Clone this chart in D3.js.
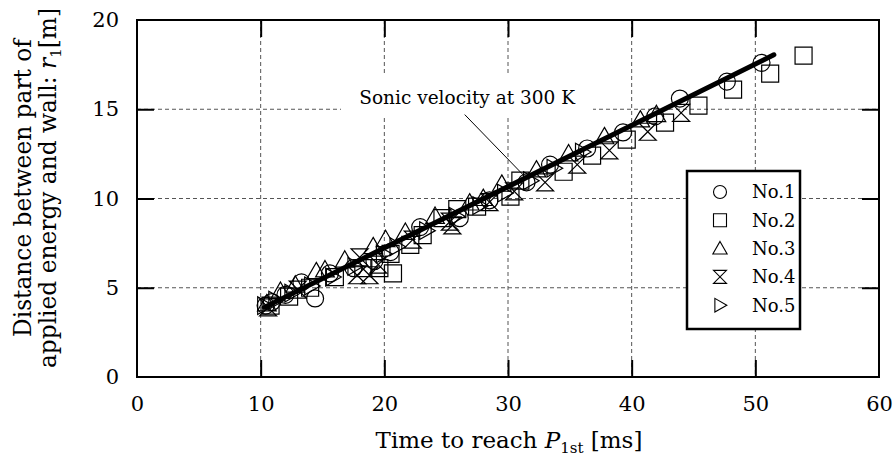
<!DOCTYPE html>
<html><head><meta charset="utf-8">
<script src="https://cdn.jsdelivr.net/npm/d3@7"></script>
<style>body{margin:0;background:#fff}svg{display:block}text{font-family:"DejaVu Serif",serif;fill:#000}</style>
</head><body><svg id="c" width="894" height="472"></svg>
<script>
// ---- data ----
const xTicks = [0, 10, 20, 30, 40, 50, 60];
const yTicks = [0, 5, 10, 15, 20];
const gridX = [10, 20, 30, 40, 50];
const gridY = [5, 10, 15];
const seriesNames = ["No.1", "No.2", "No.3", "No.4", "No.5"];
const no1 = [[10.4,4.0],[10.9,4.2],[12.0,4.6],[13.3,5.3],[14.4,4.4],[15.6,5.8],[17.5,6.1],[19.2,6.5],[20.5,7.0],[22.9,8.4],[26.1,8.9],[28.5,9.9],[31.5,10.9],[33.4,11.9],[36.4,12.8],[39.3,13.7],[41.9,14.6],[43.9,15.6],[47.7,16.55],[50.5,17.6]];
const no2 = [[10.8,4.0],[12.3,4.5],[14.0,5.0],[16.0,5.6],[18.3,6.1],[19.6,6.1],[20.7,5.8],[20.5,6.9],[22.1,7.4],[23.1,7.95],[24.7,8.9],[25.9,9.4],[27.5,9.55],[30.2,10.1],[31.0,11.0],[34.5,11.5],[36.8,12.4],[39.6,13.3],[42.7,14.25],[45.4,15.2],[48.2,16.1],[51.2,17.0],[53.9,18.0]];
const no3 = [[10.5,4.1],[11.6,4.8],[12.8,5.15],[14.5,5.9],[15.2,6.0],[16.8,6.55],[19.1,7.3],[20.1,7.7],[21.7,8.1],[24.1,9.0],[26.9,9.75],[28.0,10.0],[29.5,10.8],[32.3,11.6],[34.9,12.5],[37.8,13.46],[40.7,14.4],[42.0,14.7]];
const no4 = [[10.6,3.9],[13.0,4.9],[17.8,5.7],[18.0,6.7],[18.8,5.7],[19.5,6.3],[22.3,7.7],[25.3,8.7],[25.5,8.5],[28.5,9.8],[30.5,10.4],[33.0,10.9],[35.6,11.9],[38.2,12.7],[41.3,13.74],[44.0,14.8]];
const no5 = [[10.3,4.0],[11.2,4.3],[12.5,4.7],[14.1,5.1],[15.8,5.6],[17.6,6.2],[19.9,6.9],[21.0,7.3],[23.4,8.2],[25.8,9.0],[27.7,9.6],[29.7,10.3],[31.8,11.0],[33.7,11.7],[36.0,12.6]];
const fitX = [10.3, 51.5];
const fitY = [3.9, 18.05];
const annText = "Sonic velocity at 300 K";
const annTextPos = [26.7, 15.3];
const annLine = [[26.5, 14.7], [31.4, 11.2]];

// ---- layout ----
const svg = d3.select("#c");
const L = 137, R = 879, T = 20, B = 377;
const x = d3.scaleLinear().domain([0, 60]).range([L, R]);
const y = d3.scaleLinear().domain([0, 20]).range([B, T]);

// grid
const g = svg.append("g");
g.selectAll(".gx").data(gridX).enter().append("line")
  .attr("x1", d => x(d)).attr("x2", d => x(d)).attr("y1", T).attr("y2", B)
  .attr("stroke", "#555").attr("stroke-width", 1).attr("stroke-dasharray", "4,3");
g.selectAll(".gy").data(gridY).enter().append("line")
  .attr("y1", d => y(d)).attr("y2", d => y(d)).attr("x1", L).attr("x2", R)
  .attr("stroke", "#555").attr("stroke-width", 1).attr("stroke-dasharray", "4,3");

// annotation background box
svg.append("rect").attr("x", 341).attr("y", 73).attr("width", 252).attr("height", 45).attr("fill", "#fff");

// axes via d3 axis (inward ticks)
const tl = 17;
const axB = svg.append("g").attr("transform", `translate(0,${B})`)
  .call(d3.axisBottom(x).tickValues(xTicks).tickSize(-tl).tickPadding(19).tickFormat(d3.format("d")));
const axT = svg.append("g").attr("transform", `translate(0,${T})`)
  .call(d3.axisTop(x).tickValues(xTicks).tickSize(-tl).tickFormat(""));
const axL = svg.append("g").attr("transform", `translate(${L},0)`)
  .call(d3.axisLeft(y).tickValues(yTicks).tickSize(-tl).tickPadding(18).tickFormat(d3.format("d")));
const axR = svg.append("g").attr("transform", `translate(${R},0)`)
  .call(d3.axisRight(y).tickValues(yTicks).tickSize(-tl).tickFormat(""));
[axB, axT, axL, axR].forEach(a => {
  a.select(".domain").remove();
  a.selectAll(".tick line").attr("stroke", "#000").attr("stroke-width", 2);
  a.selectAll("text").style("font-family", "DejaVu Serif").style("font-size", "21px").attr("fill", "#000");
});
axB.selectAll(".tick").filter(d => d === 0 || d === 60).select("line").remove();
axT.selectAll(".tick").filter(d => d === 0 || d === 60).select("line").remove();
axL.selectAll(".tick").filter(d => d === 0 || d === 20).select("line").remove();
axR.selectAll(".tick").filter(d => d === 0 || d === 20).select("line").remove();

// annotation
svg.append("text").attr("x", x(annTextPos[0])).attr("y", y(annTextPos[1]))
  .attr("text-anchor", "middle").style("font-size", "18.5px").text(annText);
svg.append("line").attr("x1", x(annLine[0][0])).attr("y1", y(annLine[0][1]))
  .attr("x2", x(annLine[1][0])).attr("y2", y(annLine[1][1])).attr("stroke", "#000").attr("stroke-width", 1);

// symbols
function drawMarker(sel, kind, cx, cy, s) {
  const h = s / 2;
  if (kind === 0) {
    sel.append("circle").attr("cx", cx).attr("cy", cy).attr("r", h);
    return;
  }
  let p;
  if (kind === 1) p = `M${cx-h},${cy-h}H${cx+h}V${cy+h}H${cx-h}Z`;
  if (kind === 2) { const t = h * 1.1; p = `M${cx},${cy-t}L${cx+t},${cy+t*0.75}L${cx-t},${cy+t*0.75}Z`; }
  if (kind === 3) p = `M${cx-h},${cy-h}L${cx+h},${cy-h}L${cx-h},${cy+h}L${cx+h},${cy+h}Z`;
  if (kind === 4) { const t = h * 1.05; p = `M${cx-t*0.75},${cy-t}L${cx+t},${cy}L${cx-t*0.75},${cy+t}Z`; }
  sel.append("path").attr("d", p);
}
const allSeries = [no1, no2, no3, no4, no5];
const mg = svg.append("g").attr("fill", "none").attr("stroke", "#000").attr("stroke-width", 1.2);
allSeries.forEach((ser, k) => {
  ser.forEach(d => drawMarker(mg, k, x(d[0]), y(d[1]), 17));
});

// fit line
svg.append("line").attr("x1", x(fitX[0])).attr("y1", y(fitY[0]))
  .attr("x2", x(fitX[1])).attr("y2", y(fitY[1]))
  .attr("stroke", "#000").attr("stroke-width", 5).attr("stroke-linecap", "round");

// frame
svg.append("rect").attr("x", L).attr("y", T).attr("width", R - L).attr("height", B - T)
  .attr("fill", "none").attr("stroke", "#000").attr("stroke-width", 2);

// legend
const lg = svg.append("g");
lg.append("rect").attr("x", 687).attr("y", 171).attr("width", 113).attr("height", 158)
  .attr("fill", "#fff").attr("stroke", "#000").attr("stroke-width", 2.5);
const lm = lg.append("g").attr("fill", "none").attr("stroke", "#000").attr("stroke-width", 1.1);
seriesNames.forEach((n, i) => {
  const cy = 192 + i * 28.3;
  drawMarker(lm, i, 720, cy, 13);
  lg.append("text").attr("x", 752).attr("y", cy).attr("dy", "0.36em").style("font-size", "18px").text(n);
});

// axis titles
const xt = svg.append("text").attr("x", 509).attr("y", 448).attr("text-anchor", "middle").style("font-size", "23px");
xt.append("tspan").text("Time to reach ");
xt.append("tspan").style("font-style", "italic").text("P");
xt.append("tspan").attr("dy", 5).style("font-size", "15px").text("1st");
xt.append("tspan").attr("dy", -5).text(" [ms]");

const yt = svg.append("g").attr("transform", "translate(0,188) rotate(-90)");
yt.append("text").attr("x", 0).attr("y", 31).attr("text-anchor", "middle").style("font-size", "23.3px")
  .text("Distance between part of");
const y2 = yt.append("text").attr("x", 0).attr("y", 56).attr("text-anchor", "middle").style("font-size", "23.3px");
y2.append("tspan").text("applied energy and wall: ");
y2.append("tspan").style("font-style", "italic").text("r");
y2.append("tspan").attr("dy", 5).style("font-size", "15px").text("1");
y2.append("tspan").attr("dy", -5).text("[m]");
</script></body></html>
